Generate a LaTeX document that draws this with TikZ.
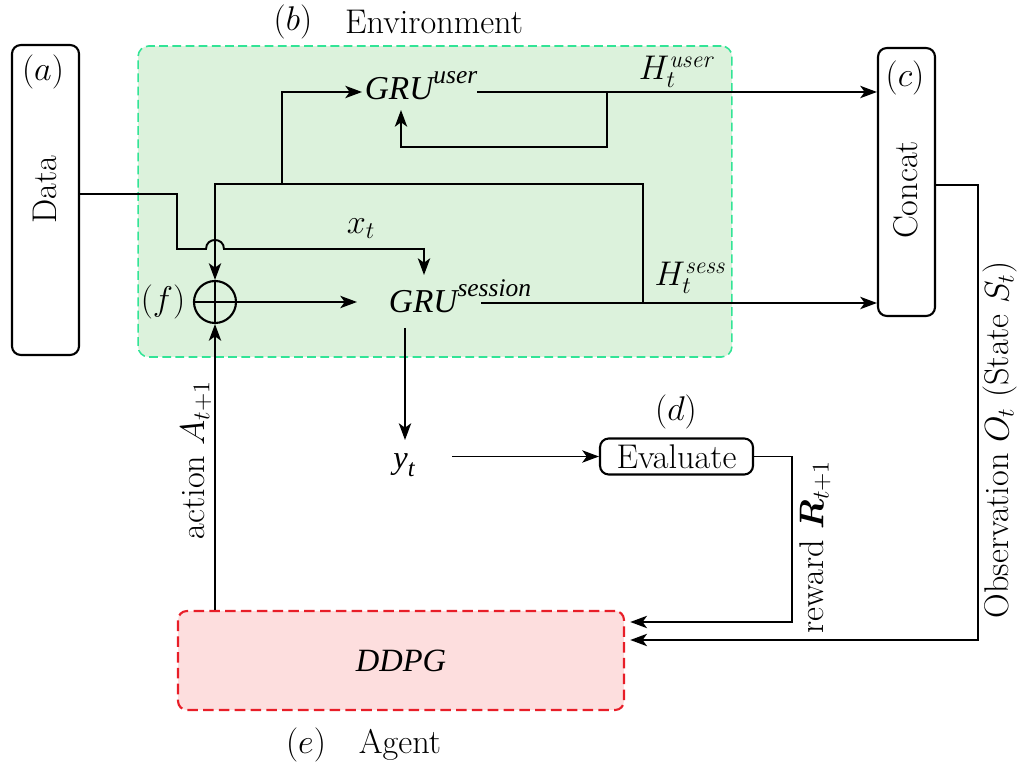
\RequirePackage{fix-cm}
\documentclass[tikz,border=0pt]{standalone}
\usepackage{amsmath}
\usepackage{fontspec}
\newfontfamily\tms{Liberation Serif}
\usetikzlibrary{arrows.meta,calc}
\definecolor{envfill}{RGB}{220,242,220}
\definecolor{envline}{RGB}{50,228,150}
\definecolor{agfill}{RGB}{253,222,222}
\definecolor{agline}{RGB}{232,30,40}
\newcommand\tmsi[2]{{\fontsize{#1}{#1}\selectfont\tms\itshape #2}}
\newcommand\gru[1]{\tmsi{19}{GRU}\raisebox{1.1ex}{\tmsi{14.5}{#1}}}
\begin{document}
\begin{tikzpicture}[x=0.02cm,y=-0.02cm,line width=1.1pt,
  every node/.style={font=\fontsize{19.5}{23}\selectfont,inner sep=0pt},
  arr/.style={-{Stealth[length=9.5pt,width=7pt,inset=2.5pt]}},
  blk/.style={draw,rounded corners=5pt,line width=1.2pt}]
\useasboundingbox (0,0) rectangle (1021,766);
% boxes
\node[draw=envline,fill=envfill,dash pattern=on 5pt off 2.5pt,rounded corners=6pt,line width=0.9pt,
      minimum width=11.88cm,minimum height=6.22cm] (env) at (435,201.5) {};
\node[draw=agline,fill=agfill,dash pattern=on 6pt off 3pt,rounded corners=5pt,line width=1.2pt,
      minimum width=8.92cm,minimum height=1.98cm] (ddpg) at (401,660.5) {\tmsi{18.5}{DDPG}};
\node[blk,minimum width=1.34cm,minimum height=6.2cm] (data) at (45.5,200) {};
\node[blk,minimum width=1.14cm,minimum height=5.36cm] (concat) at (906.5,182) {};
\node[blk,minimum width=3.06cm,minimum height=0.72cm] (eval) at (676.5,456.5) {Evaluate};
\node[draw,circle,minimum size=0.84cm,line width=1.2pt] (op) at (215,302) {};
\draw (op.north) -- (op.south) (op.west) -- (op.east);
% labels
\node (la) at (43,72) {$(a)$};
\node[rotate=90] (ldata) at (45,190) {Data};
\node (lb) at (293,22) {$(b)$};
\node (lenv) at (434,22) {Environment};
\node (lc) at (905,78) {$(c)$};
\node[rotate=90] (lconcat) at (906,190) {Concat};
\node (ld) at (676,412) {$(d)$};
\node (le) at (306,745) {$(e)$};
\node (lagent) at (400,745) {Agent};
\node (lf) at (163,302) {$(f)$};
\node (gu) at (421,86) {\gru{user}};
\node (gs) at (460,296) {\gru{session}};
\node (xt) at (361,229) {$x_t$};
\node (hu) at (676,72) {$H_t^{\mathit{user}}$};
\node (hs) at (690,278) {$H_t^{\mathit{sess}}$};
\node (yt) at (404,465) {\tmsi{18.5}{y}\raisebox{-0.5ex}{\tmsi{14}{t}}};
\node[rotate=90] (lact) at (196,460) {action $A_{t+1}$};
\node[rotate=90] (lrew) at (815,547) {reward $\boldsymbol{R}_{t+1}$};
\node[rotate=90] (lobs) at (1000,440) {Observation $O_t$ (State $S_t$)};
% coordinates
\coordinate (d0) at (0,194);
\coordinate (j1) at (215,184);
\coordinate (j2) at (282,184);
\coordinate (j3) at (643,303);
\coordinate (uin) at (362,92);
\coordinate (uout) at (477,92);
\coordinate (fb) at (607,92);
\coordinate (sin) at (357,302);
\coordinate (sout) at (481,303);
\coordinate (stop) at (424,275);
\coordinate (sbot) at (405,328);
\coordinate (ytin) at (405,440);
\coordinate (ytout) at (452,456.5);
\coordinate (r0) at (0,622);
\coordinate (o0) at (0,640);
\coordinate (c0) at (0,185);
% connectors
\draw (data.east |- d0) -- (177,194) -- (177,249) -- (206,249)
      .. controls (206,237) and (224,237) .. (224,249) -- (424,249);
\draw[arr] (424,248) -- (stop);
\draw[arr] (j3) -- (643,184) -- (j1) -- (op.north);
\draw[arr] (j2) |- (uin);
\draw[arr] (uout) -- (concat.west |- uout);
\draw[arr] (fb) -- (607,147) -- (401,147) -- (401,110);
\draw[arr] (op.east) -- (sin);
\draw[arr] (sout) -- (concat.west |- sout);
\draw[arr] (sbot) -- (ytin);
\draw[arr] (ytout) -- (eval.west);
\draw[arr,shorten >=3pt] (eval.east) -- (792,456.5) -- (792,622) -- (ddpg.east |- r0);
\draw[arr,shorten >=3pt] (concat.east |- c0) -- (978,185) -- (978,640) -- (ddpg.east |- o0);
\draw[arr] (ddpg.north -| op) -- (op.south);
\end{tikzpicture}
\end{document}
